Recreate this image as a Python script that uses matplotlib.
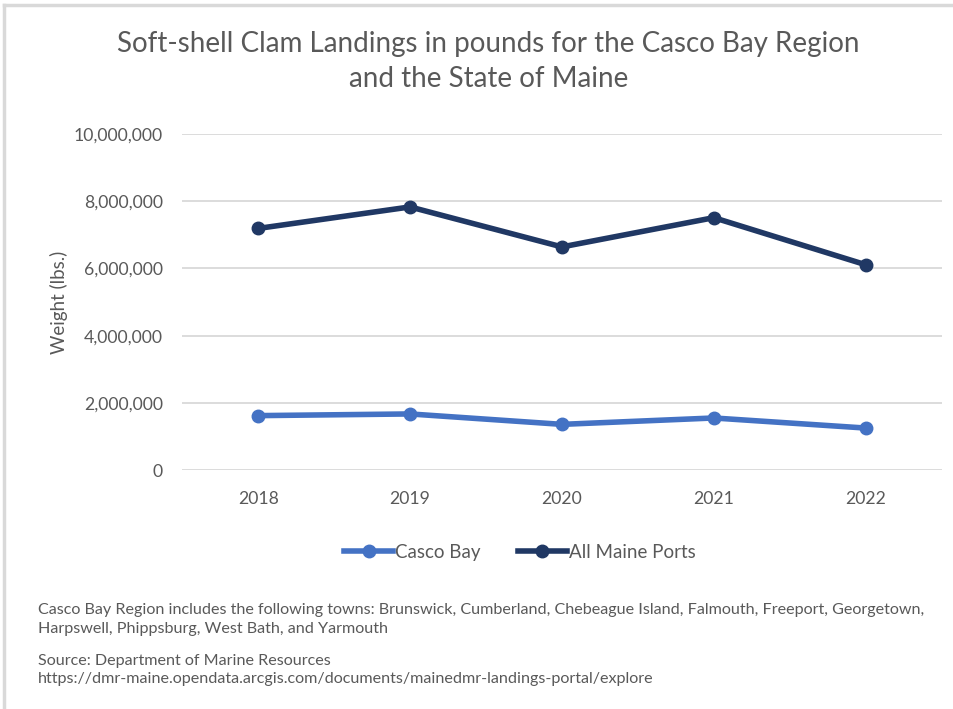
import numpy as np
import matplotlib.pyplot as plt
from matplotlib.ticker import FuncFormatter
from matplotlib.lines import Line2D

years = ["2018", "2019", "2020", "2021", "2022"]
casco_bay = [1620000, 1670000, 1360000, 1550000, 1250000]
all_maine = [7190000, 7830000, 6640000, 7510000, 6110000]

plt.rcParams['font.family'] = ['Lato', 'DejaVu Sans']
grey_txt = '#595959'

fig = plt.figure(figsize=(9.54, 7.09), dpi=100)
ax = fig.add_axes([0.191, 0.337, 0.796, 0.474])

x_pos = np.arange(len(years))
ax.plot(x_pos, casco_bay, color='#4472C4', lw=4, marker='o', ms=9,
        solid_capstyle='round', label='Casco Bay')
ax.plot(x_pos, all_maine, color='#203864', lw=4, marker='o', ms=9,
        solid_capstyle='round', label='All Maine Ports')

ax.set_xlim(-0.5, 4.5)
ax.set_ylim(0, 10000000)
ax.set_yticks(np.arange(0, 10000001, 2000000))
ax.yaxis.set_major_formatter(FuncFormatter(lambda v, p: f'{int(v):,}'))
ax.set_xticks(x_pos)
ax.set_xticklabels(years)
ax.tick_params(axis='both', length=0, labelsize=12.7, labelcolor=grey_txt)
ax.tick_params(axis='x', pad=15)
ax.tick_params(axis='y', pad=14)
ax.yaxis.grid(True, color='#D9D9D9', lw=1.3)
ax.set_axisbelow(True)
for s in ax.spines.values():
    s.set_visible(False)
ax.set_ylabel('Weight (lbs.)', fontsize=13.5, color=grey_txt, labelpad=4)

fig.text(0.512, 0.913, 'Soft-shell Clam Landings in pounds for the Casco Bay Region\nand the State of Maine',
         ha='center', va='center', fontsize=20, color=grey_txt, linespacing=1.4)

handles = [Line2D([0], [0], color='#4472C4', lw=4, marker='o', ms=9),
           Line2D([0], [0], color='#203864', lw=4, marker='o', ms=9)]
leg = fig.legend(handles, ['Casco Bay', 'All Maine Ports'], loc='center',
                 bbox_to_anchor=(0.545, 0.221), ncol=2, frameon=False,
                 fontsize=13.5, handlelength=2.6, handletextpad=0.1,
                 columnspacing=2.0)
for t in leg.get_texts():
    t.set_color(grey_txt)

fig.text(0.04, 0.126, 'Casco Bay Region includes the following towns: Brunswick, Cumberland, Chebeague Island, Falmouth, Freeport, Georgetown,\n'
         'Harpswell, Phippsburg, West Bath, and Yarmouth',
         ha='left', va='center', fontsize=11.6, color=grey_txt, linespacing=1.45)
fig.text(0.04, 0.055, 'Source: Department of Marine Resources\n'
         'https://dmr-maine.opendata.arcgis.com/documents/mainedmr-landings-portal/explore',
         ha='left', va='center', fontsize=11.6, color=grey_txt, linespacing=1.45)

# outer chart border (top and left edges visible)
fig.add_artist(Line2D([0.004, 1.0], [0.9935, 0.9935], color='#D9D9D9', lw=2.5))
fig.add_artist(Line2D([0.0045, 0.0045], [0.0, 0.9935], color='#D9D9D9', lw=2.5))

plt.savefig('out.png', dpi=100)
